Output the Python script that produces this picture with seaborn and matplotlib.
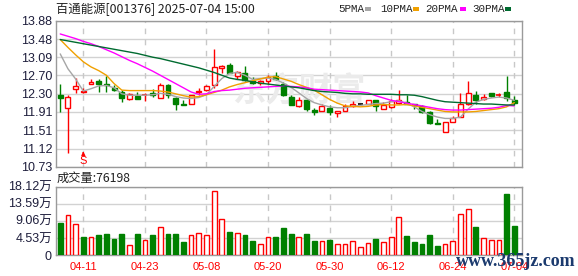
import numpy as np
import pandas as pd
import matplotlib
matplotlib.use("Agg")
import matplotlib.pyplot as plt
import seaborn as sns

# ---------------- data ----------------
dates = ["04-08", "04-09", "04-10", "04-11", "04-14", "04-15", "04-16", "04-17", "04-18", "04-21",
         "04-22", "04-23", "04-24", "04-25", "04-28", "04-29", "04-30", "05-06", "05-07", "05-08",
         "05-09", "05-12", "05-13", "05-14", "05-15", "05-16", "05-19", "05-20", "05-21", "05-22",
         "05-23", "05-26", "05-27", "05-28", "05-29", "05-30", "06-03", "06-04", "06-05", "06-06",
         "06-09", "06-10", "06-11", "06-12", "06-13", "06-16", "06-17", "06-18", "06-19", "06-20",
         "06-23", "06-24", "06-25", "06-26", "06-27", "06-30", "07-01", "07-02", "07-03", "07-04"]

opens = [12.28, 12.00, 12.40, 12.35, 12.52, 12.58, 12.52, 12.43, 12.34, 12.18,
         12.25, 12.28, 12.31, 12.21, 12.48, 12.20, 12.09, 12.09, 12.34, 12.39,
         12.48, 12.86, 12.93, 12.68, 12.74, 12.57, 12.53, 12.58, 12.68, 12.52,
         12.23, 12.04, 12.16, 11.96, 11.93, 12.00, 11.89, 11.93, 12.04, 12.09,
         12.09, 12.16, 11.98, 12.02, 12.11, 12.13, 12.09, 12.04, 11.91, 11.68,
         11.48, 11.70, 11.80, 12.08, 12.27, 12.18, 12.31, 12.28, 12.33, 12.16]
highs = [12.51, 12.28, 12.64, 12.43, 12.63, 12.61, 12.68, 12.50, 12.38, 12.31,
         12.34, 12.32, 12.41, 12.54, 12.52, 12.23, 12.16, 12.28, 12.43, 12.50,
         13.27, 12.92, 12.96, 12.79, 12.90, 12.66, 12.59, 12.71, 12.76, 12.55,
         12.28, 12.23, 12.19, 11.99, 12.08, 12.05, 11.93, 12.08, 12.14, 12.09,
         12.17, 12.16, 12.12, 12.19, 12.39, 12.28, 12.09, 12.05, 11.94, 11.76,
         11.70, 11.82, 12.31, 12.58, 12.36, 12.29, 12.32, 12.32, 12.68, 12.25]
lows = [11.91, 11.03, 12.32, 12.32, 12.52, 12.34, 12.34, 12.36, 12.13, 12.17,
        12.18, 12.14, 12.23, 12.20, 12.20, 11.95, 12.07, 12.09, 12.28, 12.36,
        12.43, 12.74, 12.74, 12.63, 12.58, 12.52, 12.49, 12.52, 12.59, 12.26,
        12.05, 12.02, 11.93, 11.85, 11.92, 11.85, 11.81, 11.92, 12.02, 12.05,
        12.08, 11.92, 11.98, 12.00, 12.09, 12.09, 11.97, 11.88, 11.65, 11.65,
        11.48, 11.69, 11.80, 12.05, 12.08, 12.16, 12.23, 12.23, 12.15, 12.05]
closes = [12.22, 12.24, 12.47, 12.37, 12.56, 12.52, 12.49, 12.39, 12.22, 12.29,
          12.19, 12.29, 12.27, 12.48, 12.27, 12.09, 12.07, 12.28, 12.36, 12.46,
          12.87, 12.90, 12.75, 12.77, 12.59, 12.54, 12.57, 12.66, 12.61, 12.27,
          12.07, 12.16, 11.97, 11.90, 12.04, 11.90, 11.93, 12.04, 12.08, 12.09,
          12.16, 12.04, 12.07, 12.15, 12.17, 12.09, 12.05, 11.91, 11.68, 11.65,
          11.70, 11.79, 12.08, 12.31, 12.16, 12.23, 12.26, 12.29, 12.20, 12.10]
prev_close_first = 12.30

ma5 = [13.16, 12.84, 12.62, 12.36, 12.41, 12.47, 12.48, 12.43, 12.30, 12.27,
       12.27, 12.27, 12.28, 12.31, 12.29, 12.24, 12.21, 12.20, 12.22, 12.28,
       12.46, 12.63, 12.74, 12.76, 12.70, 12.61, 12.63, 12.64, 12.61, 12.53,
       12.44, 12.32, 12.20, 12.11, 12.06, 12.02, 12.00, 12.00, 12.03, 12.05,
       12.07, 12.09, 12.10, 12.13, 12.15, 12.10, 12.02, 11.92, 11.85, 11.80,
       11.77, 11.77, 11.80, 11.97, 12.12, 12.18, 12.21, 12.23, 12.21, 12.16]
ma10 = [13.47, 13.30, 13.14, 12.99, 12.88, 12.80, 12.70, 12.52, 12.38, 12.37,
        12.37, 12.37, 12.37, 12.36, 12.34, 12.30, 12.26, 12.23, 12.24, 12.28,
        12.33, 12.38, 12.45, 12.50, 12.54, 12.58, 12.62, 12.66, 12.67, 12.62,
        12.57, 12.50, 12.44, 12.38, 12.28, 12.18, 12.10, 12.04, 12.03, 12.02,
        12.03, 12.06, 12.07, 12.06, 12.06, 12.07, 12.04, 12.01, 11.98, 11.95,
        11.92, 11.91, 11.91, 11.91, 11.92, 11.94, 11.96, 11.98, 12.02, 12.11]
ma20 = [13.59, 13.54, 13.49, 13.43, 13.38, 13.32, 13.25, 13.18, 13.10, 13.02,
        12.95, 12.87, 12.79, 12.70, 12.61, 12.52, 12.43, 12.34, 12.29, 12.30,
        12.35, 12.37, 12.38, 12.40, 12.42, 12.43, 12.44, 12.45, 12.46, 12.47,
        12.46, 12.45, 12.43, 12.40, 12.39, 12.38, 12.37, 12.36, 12.35, 12.34,
        12.32, 12.26, 12.21, 12.16, 12.13, 12.10, 12.07, 12.04, 12.01, 11.98,
        11.96, 11.95, 11.95, 11.96, 11.97, 11.98, 11.99, 12.01, 12.05, 12.04]
ma30 = [13.47, 13.44, 13.41, 13.38, 13.35, 13.32, 13.29, 13.26, 13.23, 13.20,
        13.17, 13.13, 13.09, 13.06, 13.02, 12.98, 12.94, 12.90, 12.86, 12.81,
        12.76, 12.70, 12.64, 12.61, 12.59, 12.56, 12.53, 12.51, 12.49, 12.47,
        12.45, 12.43, 12.40, 12.37, 12.35, 12.34, 12.33, 12.31, 12.30, 12.30,
        12.29, 12.29, 12.29, 12.29, 12.28, 12.28, 12.27, 12.24, 12.20, 12.16,
        12.13, 12.12, 12.11, 12.10, 12.09, 12.08, 12.08, 12.07, 12.06, 12.06]

volumes = [8.4, 10.5, 8.1, 4.8, 4.8, 5.2, 5.7, 4.3, 5.45, 2.7,
           5.45, 3.85, 5.2, 7.5, 5.7, 5.45, 3.4, 5.2, 5.9, 5.2,
           17.1, 9.65, 6.2, 5.9, 5.2, 3.6, 3.05, 4.8, 4.8, 7.05,
           5.45, 4.9, 5.6, 3.75, 3.75, 4.0, 2.95, 2.95, 3.75, 2.2,
           3.1, 4.3, 3.4, 4.8, 10.1, 5.1, 3.5, 2.95, 5.4, 2.4,
           2.95, 3.75, 10.9, 12.3, 7.3, 4.5, 4.0, 4.0, 16.1, 7.6198]

price_ticks = [13.88, 13.48, 13.09, 12.70, 12.30, 11.91, 11.51, 11.12, 10.73]
price_tick_labels = ["13.88", "13.48", "13.09", "12.70", "12.30", "11.91", "11.51", "11.12", "10.73"]
vol_ticks = [0, 4.53, 9.06, 13.59, 18.12]
vol_tick_labels = ["0", "4.53万", "9.06万", "13.59万", "18.12万"]
date_tick_labels = ["04-11", "04-23", "05-08", "05-20", "05-30", "06-12", "06-24", "07-04"]

title_text = "百通能源[001376] 2025-07-04 15:00"
legend_labels = ["5PMA", "10PMA", "20PMA", "30PMA"]
volume_title = "成交量:76198"
signal_index = 3
signal_text = "S"
watermark_text = "东方财富"
site_text = "www.365jz.com"

# ---------------- style ----------------
sns.set_style("white")
CJK = ["Noto Sans CJK SC", "DejaVu Sans"]
plt.rcParams["font.family"] = ["Liberation Sans", "Noto Sans CJK SC", "DejaVu Sans"]

RED = "#ff0000"
GREEN = "#008000"
GRID = "#d2d2d2"
SPINE = "#9a9a9a"
TXT = "#1e1e3c"
MA_COLORS = ["#a6a6a6", "#f0a000", "#ff00ff", "#006b30"]

W, H = 578, 276
fig = plt.figure(figsize=(W / 100, H / 100), dpi=100)
fig.patch.set_facecolor("white")

L, R = 56, 522
ax = fig.add_axes([L / W, 1 - 166.7 / H, (R - L) / W, (166.7 - 20.5) / H])
axv = fig.add_axes([L / W, 1 - 255.0 / H, (R - L) / W, (255.0 - 186.7) / H])

n = len(closes)
x = np.arange(n)
o = np.array(opens); c = np.array(closes); hi = np.array(highs); lo = np.array(lows)

df = pd.DataFrame({"x": x, "date": dates, "open": o, "high": hi, "low": lo, "close": c,
                   "ma5": ma5, "ma10": ma10, "ma20": ma20, "ma30": ma30, "vol": volumes})

tick_idx = [dates.index(d) for d in date_tick_labels]

for a in (ax, axv):
    a.set_xlim(-0.55, 60.0)
    for s in a.spines.values():
        s.set_color(SPINE)
        s.set_linewidth(1.0)
    for t in tick_idx:
        a.axvline(t, color="#c8c8c8", lw=1.0, ls=(0, (4, 4)), zorder=0.6)

# price grid
ax.set_ylim(10.73, 13.88)
ax.set_yticks(price_ticks)
ax.set_yticklabels(price_tick_labels)
for p in price_ticks:
    ax.axhline(p, color=GRID, lw=1.0, zorder=0.5)
ax.set_xticks([])
ax.tick_params(axis="y", length=0, pad=2.5, labelsize=9, labelcolor=TXT)

# watermark
ax.text(31.0, 12.33, watermark_text, fontsize=24, fontweight="bold", color="#ebebeb",
        family=CJK, ha="center", va="center", zorder=0.7)

# candles
up = c > o + 1e-9
down = c < o - 1e-9
cols = np.where(up, RED, np.where(down, GREEN, "#000000"))
ax.vlines(x, lo, hi, colors=cols, lw=1.0, zorder=2)
bw = 0.64
body_bottom = np.minimum(o, c)
body_h = np.abs(c - o)
flat = body_h < 0.012
for i in range(n):
    if flat[i]:
        ax.hlines((o[i] + c[i]) / 2, x[i] - bw / 2, x[i] + bw / 2, colors=cols[i], lw=1.2, zorder=3)
    else:
        ax.bar(x[i], body_h[i], bottom=body_bottom[i], width=bw,
               facecolor="white" if up[i] else cols[i], edgecolor=cols[i], lw=1.0, zorder=3)

# moving averages
for col, color in zip(["ma5", "ma10", "ma20", "ma30"], MA_COLORS):
    sns.lineplot(data=df, x="x", y=col, ax=ax, color=color, lw=1.0, zorder=4, legend=False)
ax.set_xlabel(""); ax.set_ylabel("")

# signal marker
ax.annotate("", xy=(signal_index, 11.06), xytext=(signal_index, 10.96),
            arrowprops=dict(arrowstyle="-|>", color=RED, lw=1.0, mutation_scale=5), zorder=5)
ax.text(signal_index, 10.86, signal_text, color=RED, fontsize=8, ha="center", va="center", zorder=5)

# volume
prev = np.concatenate([[prev_close_first], c[:-1]])
vup = c >= prev
vcols = np.where(vup, RED, GREEN)
axv.bar(x, volumes, width=0.62, facecolor=np.where(vup, "white", GREEN).tolist(),
        edgecolor=vcols.tolist(), lw=1.0, zorder=3)
axv.set_ylim(0, 18.12)
axv.set_yticks(vol_ticks)
axv.set_yticklabels(vol_tick_labels)
for v in vol_ticks:
    axv.axhline(v, color=GRID, lw=1.0, zorder=0.5)
axv.set_xticks(tick_idx)
axv.set_xticklabels(date_tick_labels)
axv.tick_params(axis="y", length=0, pad=3, labelsize=9, labelcolor=TXT)
axv.tick_params(axis="x", length=0, pad=5, labelsize=8, labelcolor=RED)

# header texts
fig.text(56 / W, 1 - 9 / H, title_text, fontsize=8.9, family=CJK, color="#222222", va="center", ha="left")
leg_x = [338, 380, 425, 472]
box_x = [365, 413, 460, 505]
for lab, tx, bx, colr in zip(legend_labels, leg_x, box_x, MA_COLORS):
    fig.text(tx / W, 1 - 9 / H, lab, fontsize=7.8, family=["Liberation Mono", "DejaVu Sans"],
             color="#222222", va="center", ha="left")
    fig.patches.append(matplotlib.patches.Rectangle((bx / W, 1 - 10.5 / H), 6 / W, 3.5 / H,
                                                    transform=fig.transFigure, facecolor=colr,
                                                    edgecolor="none"))
fig.text(57 / W, 1 - 178 / H, volume_title, fontsize=8.8, family=CJK, color="#222222", va="center", ha="left")

fig.text(516 / W, 1 - 261 / H, site_text, fontsize=13, family=["Liberation Serif", "DejaVu Serif"],
         fontweight="bold", color="#1b3a6e", ha="center", va="center", zorder=10)

fig.savefig("out.png", dpi=100, facecolor="white")
